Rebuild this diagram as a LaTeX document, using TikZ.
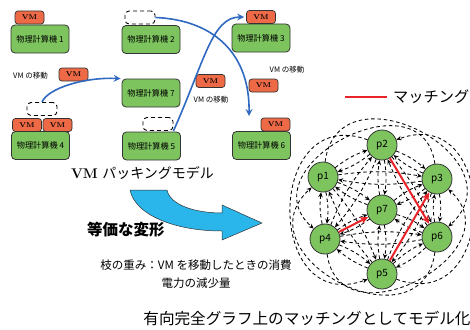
\documentclass[tikz,border=0pt]{standalone}
\usepackage{fontspec}
\newfontfamily\cjk{Noto Sans CJK JP}
\usetikzlibrary{arrows.meta,calc}
\definecolor{mgreen}{HTML}{7DC45E}
\definecolor{vmorange}{HTML}{EE6A47}
\definecolor{arrblue}{HTML}{3069C0}
\definecolor{bigblue}{HTML}{2BB6EB}
\definecolor{mred}{HTML}{E8232A}
\definecolor{edgec}{HTML}{333333}
\begin{document}
\begin{tikzpicture}[x=1pt,y=-1pt,
 machine/.style={draw=edgec, line width=0.8pt, fill=mgreen, rounded corners=4pt, minimum width=58pt, minimum height=28pt, inner sep=0pt, font=\cjk\fontsize{8.2}{9}\selectfont},
 vm/.style={draw=edgec, line width=0.7pt, fill=vmorange, rounded corners=3pt, minimum width=29pt, minimum height=13pt, inner sep=0pt, font=\bfseries\fontsize{7}{8}\selectfont},
 slot/.style={draw=black, dash pattern=on 4pt off 3pt, line width=0.9pt, rounded corners=4pt, minimum width=30pt, minimum height=13pt, inner sep=0pt},
 move/.style={arrblue, line width=1.6pt, -{Stealth[length=7pt,width=7pt,inset=2.5pt]}},
 lbl/.style={font=\cjk\fontsize{7.5}{9}\selectfont, inner sep=0pt},
 pnode/.style={circle, draw=edgec, line width=0.8pt, fill=mgreen, minimum size=30pt, inner sep=0pt, font=\cjk\fontsize{10}{11}\selectfont},
 cedge/.style={dash pattern=on 3.5pt off 2.8pt, line width=0.85pt, -{Stealth[length=5pt,width=4.5pt]}},
 match/.style={mred, line width=2pt, -{Stealth[length=8pt,width=7pt,inset=2pt]}},
]
\useasboundingbox (0,0) rectangle (470,329);
% machines
\node[machine] (m1) at (40,39) {物理計算機 1};
\node[machine] (m2) at (151,39.5) {物理計算機 2};
\node[machine] (m3) at (261,38) {物理計算機 3};
\node[machine] (m7) at (151,93) {物理計算機 7};
\node[machine] (m4) at (40.5,145.5) {物理計算機 4};
\node[machine] (m5) at (151.5,146) {物理計算機 5};
\node[machine] (m6) at (261.5,145.5) {物理計算機 6};
% VMs and slots
\node[vm] (vm1) at (29.5,17.5) {VM};
\node[slot] (s2) at (140,17.5) {};
\node[vm] (vm3) at (261,17) {VM};
\node[slot] (s4) at (42,109) {};
\node[vm] (vm4a) at (27,125) {VM};
\node[vm] (vm4b) at (57.5,125) {VM};
\node[slot] (s5) at (158,124) {};
\node[vm] (vm6) at (275.5,124.5) {VM};
\node[vm] (fv1) at (73.5,74.5) {VM};
\node[vm] (fv2) at (210.5,81) {VM};
\node[vm] (fv3) at (263.5,85.5) {VM};
\node[lbl] (l1) at (30.5,76) {VM の移動};
\node[lbl] (l2) at (211,100) {VM の移動};
\node[lbl] (l3) at (287,70) {VM の移動};
% moves
\coordinate (t6) at (249,116);
\draw[move] (s4.north) .. controls (48,88) and (85,77) .. ([xshift=-1pt]m7.north west);
\draw[move,shorten >=2pt] (s5.south east) .. controls (205,60) and (212,17) .. (vm3.west);
\draw[move] (s2.east) .. controls (215,20) and (250,55) .. (t6);
% titles
\node[inner sep=0pt] (tt1) at (142.5,173) {\fontsize{14}{16}\selectfont\textbf{VM} {\cjk パッキングモデル}};
\node[inner sep=0pt, anchor=west] (tt2) at (87,230) {\cjk\bfseries\fontsize{15.5}{17}\selectfont 等価な変形};
\node[inner sep=0pt] (tt3) at (196,265) {\cjk\fontsize{11.5}{13}\selectfont 枝の重み：VM を移動したときの消費};
\node[inner sep=0pt] (tt4) at (196,283) {\cjk\fontsize{11.5}{13}\selectfont 電力の減少量};
\node[inner sep=0pt] (tt5) at (307,318) {\cjk\fontsize{15.6}{17}\selectfont 有向完全グラフ上のマッチングとしてモデル化};
% big arrow
\draw[fill=bigblue, draw=edgec, line width=0.5pt] (130,190) -- (167,190) .. controls (170,205) and (195,213) .. (222,213) -- (222,205) -- (262,223) -- (222,240) -- (222,231) .. controls (175,231) and (135,215) .. (130,190) -- cycle;
% legend
\coordinate (lgA) at (345,97);
\coordinate (lgB) at (387,97);
\draw[mred, line width=2pt] (lgA) -- (lgB);
\node[inner sep=0pt, anchor=west] (lgT) at (393,97) {\cjk\fontsize{15.2}{17}\selectfont マッチング};
% graph
\node[pnode] (p1) at (323,177) {p1};
\node[pnode] (p2) at (382,145) {p2};
\node[pnode] (p3) at (437,179) {p3};
\node[pnode] (p4) at (325,239) {p4};
\node[pnode] (p5) at (382,274) {p5};
\node[pnode] (p6) at (437,237) {p6};
\node[pnode] (p7) at (382,210) {p7};
\foreach \a/\b in {p1/p2,p1/p3,p1/p4,p1/p5,p1/p7,p2/p3,p2/p4,p2/p6,p2/p7,p3/p5,p3/p6,p3/p7,p4/p5,p4/p6,p4/p7,p5/p6,p5/p7,p6/p7} {
  \draw[cedge] (\a) to[bend left=9] (\b);
  \draw[cedge] (\b) to[bend left=9] (\a);
}
\draw[cedge] (p2) .. controls +(-117.5,-42.8) and +(-117.5,42.8) .. (p5);
\draw[cedge] (p5) .. controls +(117.5,42.8) and +(117.5,-42.8) .. (p2);
\draw[cedge] (p1) .. controls +(15.8,-115) and +(85.6,-78.3) .. (p6);
\draw[cedge] (p6) .. controls +(-15.8,115) and +(-85.6,78.3) .. (p1);
\draw[cedge] (p3) .. controls +(-14.8,-106.8) and +(-79.6,-72.2) .. (p4);
\draw[cedge] (p4) .. controls +(15,107.4) and +(79.8,72.7) .. (p3);
\draw[match] (p4) -- (p7);
\draw[match] (p2) -- (p6);
\draw[match] (p5) -- (p3);
\end{tikzpicture}
\end{document}
